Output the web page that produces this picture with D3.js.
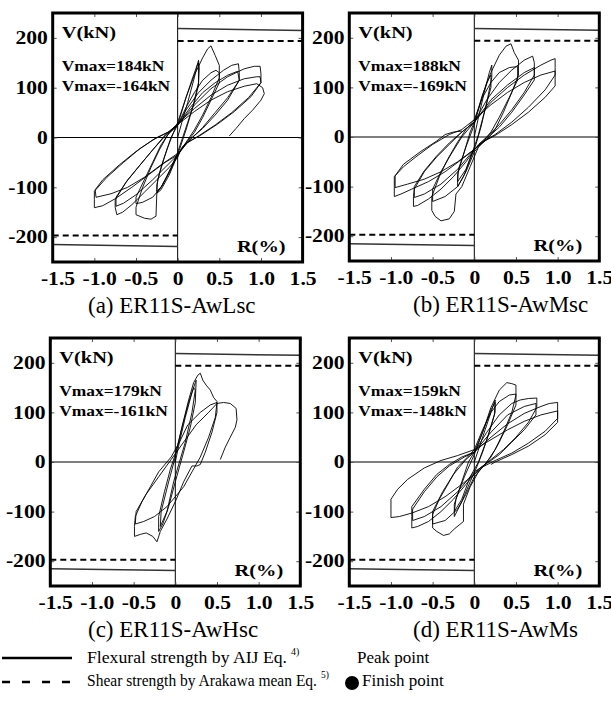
<!DOCTYPE html>
<html>
<head>
<meta charset="utf-8">
<script src="https://cdn.jsdelivr.net/npm/d3@7"></script>
<style>
body { margin: 0; background: #fff; }
svg { display: block; }
svg text { font-family: 'Liberation Serif', Tinos, 'Times New Roman', Times, serif; }
</style>
</head>
<body>
<svg id="chart" width="611" height="704"></svg>
<script>
// ---- data ----
const rTicks = [-1.5, -1.0, -0.5, 0, 0.5, 1.0, 1.5];
const vTicks = [200, 100, 0, -100, -200];
const captions = ["(a) ER11S-AwLsc", "(b) ER11S-AwMsc", "(c) ER11S-AwHsc", "(d) ER11S-AwMs"];
const vmaxPos = [184, 188, 179, 159];
const vmaxNeg = [-164, -169, -161, -148];
const flexural = [219, 215];   // V at R=0 and at R=1.5 (mirrored on the negative side)
const shear = [194, -197];     // Arakawa mean shear strength, + and - side

// hysteresis loops, [R(%), V(kN)] in loading order
const loopA = [
  [0,0],[0.05,30],[0.12,70],[0.2,120],[0.25,155],[0.26,140],[0.25,105],[0.2,70],[0.12,30],[0.05,-5],[0,-30],
  [-0.08,-60],[-0.18,-95],[-0.25,-112],[-0.25,-95],[-0.2,-60],[-0.12,-20],[-0.05,10],[0,30],
  [0.08,70],[0.17,115],[0.24,148],[0.25,150],[0.25,110],[0.18,60],[0.1,15],[0.02,-25],
  [-0.1,-70],[-0.2,-100],[-0.25,-108],[-0.24,-85],[-0.16,-40],[-0.08,0],[0,25],
  [0.1,80],[0.2,125],[0.3,160],[0.36,178],[0.4,184],[0.45,165],[0.5,145],[0.5,120],[0.4,80],[0.3,45],[0.2,15],[0.1,-10],[0,-35],
  [-0.1,-75],[-0.2,-105],[-0.25,-112],[-0.26,-158],[-0.32,-164],[-0.4,-162],[-0.5,-155],[-0.5,-140],[-0.42,-100],[-0.32,-60],[-0.22,-25],[-0.12,5],[0,25],
  [0.1,60],[0.2,90],[0.3,115],[0.4,130],[0.46,135],[0.5,130],[0.5,110],[0.4,75],[0.3,40],[0.2,10],[0.08,-15],[0,-35],
  [-0.1,-70],[-0.2,-100],[-0.3,-120],[-0.42,-130],[-0.5,-133],[-0.5,-120],[-0.4,-85],[-0.3,-50],[-0.2,-15],[-0.1,10],[0,25],
  [0.1,55],[0.25,90],[0.4,115],[0.55,135],[0.65,145],[0.73,148],[0.74,130],[0.74,115],[0.6,80],[0.45,50],[0.3,20],[0.15,-5],[0.05,-20],[0,-40],
  [-0.1,-60],[-0.25,-85],[-0.4,-110],[-0.55,-135],[-0.66,-150],[-0.73,-155],[-0.75,-140],[-0.75,-125],[-0.62,-90],[-0.45,-55],[-0.3,-25],[-0.15,5],[0,25],
  [0.15,60],[0.3,90],[0.45,110],[0.6,125],[0.72,133],[0.74,115],[0.6,75],[0.45,45],[0.3,18],[0.15,-3],[0,-35],
  [-0.15,-60],[-0.3,-85],[-0.5,-115],[-0.65,-132],[-0.74,-138],[-0.74,-120],[-0.6,-85],[-0.45,-55],[-0.3,-25],[-0.15,3],[0,25],
  [0.2,65],[0.4,98],[0.6,122],[0.8,138],[0.92,143],[0.99,143],[1.0,128],[1.0,110],[0.85,80],[0.65,50],[0.45,25],[0.25,3],[0.1,-12],[0,-35],
  [-0.15,-50],[-0.35,-75],[-0.55,-100],[-0.75,-123],[-0.9,-137],[-1.0,-141],[-1.0,-125],[-1.0,-108],[-0.85,-80],[-0.65,-50],[-0.45,-22],[-0.25,0],[-0.1,12],[0,28],
  [0.2,58],[0.4,85],[0.6,105],[0.8,118],[0.95,122],[0.99,122],[1.0,110],[0.88,82],[0.68,52],[0.48,27],[0.28,5],[0.12,-10],[0,-32],
  [-0.2,-55],[-0.4,-80],[-0.6,-100],[-0.8,-113],[-0.98,-120],[-0.99,-105],[-0.9,-85],[-0.7,-55],[-0.5,-28],[-0.3,-5],[-0.12,10],[0,26],
  [0.2,52],[0.4,75],[0.6,92],[0.8,103],[0.95,108],[1.02,100],[1.04,88],[1.0,75],[0.9,55],[0.8,38],[0.7,18],[0.62,3]
];

const loopB = [
  [0,0],[0.05,40],[0.12,90],[0.18,130],[0.21,145],[0.21,120],[0.15,70],[0.08,20],[0.02,-15],
  [-0.05,-45],[-0.13,-80],[-0.2,-100],[-0.2,-75],[-0.12,-30],[-0.05,10],[0,30],
  [0.08,75],[0.15,110],[0.2,125],[0.2,100],[0.12,50],[0.05,5],[0,-20],
  [-0.1,-65],[-0.2,-90],[-0.19,-65],[-0.1,-20],[0,25],
  [0.1,85],[0.2,130],[0.3,165],[0.38,183],[0.44,188],[0.48,170],[0.53,155],[0.53,125],[0.45,90],[0.35,50],[0.25,15],[0.15,-5],[0.05,-20],
  [-0.05,-60],[-0.15,-100],[-0.22,-115],[-0.24,-150],[-0.3,-165],[-0.4,-169],[-0.47,-160],[-0.51,-148],[-0.51,-120],[-0.42,-80],[-0.32,-45],[-0.2,-10],[-0.1,15],[0,35],
  [0.1,80],[0.2,110],[0.3,130],[0.42,140],[0.52,142],[0.52,115],[0.42,80],[0.3,40],[0.2,10],[0.1,-10],[0,-30],
  [-0.1,-70],[-0.2,-100],[-0.35,-120],[-0.5,-130],[-0.5,-105],[-0.4,-70],[-0.28,-35],[-0.15,0],[0,30],
  [0.15,75],[0.3,110],[0.45,135],[0.6,155],[0.7,163],[0.72,150],[0.72,125],[0.6,90],[0.45,55],[0.3,25],[0.15,0],[0.05,-15],
  [-0.1,-50],[-0.25,-80],[-0.4,-105],[-0.55,-125],[-0.68,-138],[-0.73,-140],[-0.73,-120],[-0.72,-105],[-0.6,-70],[-0.45,-40],[-0.3,-15],[-0.15,10],[0,30],
  [0.2,75],[0.4,105],[0.6,130],[0.72,140],[0.72,115],[0.6,85],[0.45,50],[0.3,20],[0.15,-3],[0,-25],
  [-0.2,-65],[-0.4,-95],[-0.6,-115],[-0.72,-122],[-0.72,-100],[-0.6,-68],[-0.45,-38],[-0.3,-12],[-0.15,10],[0,30],
  [0.2,70],[0.4,100],[0.6,125],[0.8,145],[0.92,155],[0.97,158],[0.97,140],[0.97,125],[0.85,95],[0.65,60],[0.45,30],[0.25,5],[0.1,-10],[0,-25],
  [-0.15,-45],[-0.35,-70],[-0.55,-90],[-0.75,-105],[-0.88,-115],[-0.96,-120],[-0.96,-100],[-0.96,-80],[-0.85,-60],[-0.7,-40],[-0.5,-15],[-0.3,5],[-0.15,15],[0,35],
  [0.2,65],[0.4,90],[0.6,110],[0.8,125],[0.97,133],[0.97,115],[0.97,103],[0.85,80],[0.65,50],[0.45,25],[0.25,3],[0.1,-10],[0,-25],
  [-0.2,-50],[-0.4,-70],[-0.6,-85],[-0.8,-95],[-0.95,-102],[-0.95,-78],[-0.85,-55],[-0.65,-30],[-0.45,-8],[-0.35,5],[-0.25,10],[-0.15,12]
];

const loopC = [
  [0,0],[0.05,40],[0.12,90],[0.2,140],[0.24,160],[0.25,165],[0.24,120],[0.18,70],[0.1,20],[0.05,-10],
  [0,-40],[-0.08,-90],[-0.15,-125],[-0.2,-140],[-0.2,-110],[-0.13,-60],[-0.06,-15],[0,15],
  [0.08,70],[0.16,120],[0.22,150],[0.24,145],[0.2,100],[0.12,40],[0.05,0],
  [-0.02,-40],[-0.1,-100],[-0.18,-130],[-0.17,-100],[-0.08,-40],[0,10],
  [0.08,70],[0.16,125],[0.22,160],[0.27,175],[0.3,179],[0.33,165],[0.37,155],[0.42,145],[0.46,130],[0.5,122],[0.5,100],[0.44,60],[0.36,20],[0.3,-5],[0.26,-8],[0.2,-8],
  [0.1,-40],[0,-80],[-0.1,-115],[-0.18,-140],[-0.22,-161],[-0.27,-150],[-0.35,-143],[-0.42,-146],[-0.49,-150],[-0.49,-130],[-0.48,-110],[-0.4,-80],[-0.3,-50],[-0.2,-20],[-0.1,0],[-0.05,10],
  [0.05,40],[0.15,75],[0.3,100],[0.42,115],[0.5,120],[0.48,90],[0.4,50],[0.3,10],[0.2,-20],[0.1,-50],
  [0,-70],[-0.1,-90],[-0.25,-110],[-0.38,-120],[-0.48,-125],[-0.47,-100],[-0.35,-65],[-0.2,-30],[-0.05,5],
  [0.1,40],[0.25,75],[0.4,100],[0.5,118],[0.58,120],[0.66,118],[0.73,108],[0.74,85],[0.72,70],[0.66,50],[0.6,30],[0.54,5]
];

const loopD = [
  [0,0],[0.1,50],[0.2,100],[0.25,125],[0.25,100],[0.18,60],[0.1,20],[0.03,-10],
  [-0.05,-40],[-0.15,-80],[-0.24,-110],[-0.24,-85],[-0.15,-40],[-0.07,0],[0,20],
  [0.1,60],[0.2,105],[0.25,120],[0.24,95],[0.15,45],[0.05,0],
  [-0.05,-30],[-0.15,-75],[-0.24,-100],[-0.22,-75],[-0.12,-30],[0,15],
  [0.1,60],[0.2,110],[0.3,145],[0.39,160],[0.45,158],[0.5,155],[0.5,135],[0.45,100],[0.35,60],[0.25,25],[0.15,0],[0.05,-20],
  [-0.05,-50],[-0.13,-85],[-0.13,-120],[-0.24,-135],[-0.3,-145],[-0.37,-148],[-0.45,-140],[-0.5,-133],[-0.5,-106],[-0.42,-75],[-0.3,-40],[-0.2,-10],[-0.08,10],[0,25],
  [0.1,65],[0.2,100],[0.3,122],[0.42,135],[0.5,137],[0.5,115],[0.4,75],[0.3,40],[0.2,10],[0.1,-10],[0,-30],
  [-0.1,-65],[-0.2,-95],[-0.35,-118],[-0.5,-125],[-0.5,-100],[-0.38,-60],[-0.25,-25],[-0.1,5],[0,20],
  [0.15,60],[0.3,95],[0.45,118],[0.55,125],[0.65,128],[0.75,129],[0.75,110],[0.65,80],[0.5,50],[0.35,25],[0.2,5],[0.05,-15],
  [-0.1,-45],[-0.25,-75],[-0.4,-100],[-0.55,-120],[-0.68,-130],[-0.75,-133],[-0.75,-110],[-0.75,-90],[-0.6,-55],[-0.45,-25],[-0.3,-5],[-0.15,10],[0,20],
  [0.2,60],[0.4,95],[0.6,112],[0.74,118],[0.74,95],[0.6,65],[0.45,40],[0.3,15],[0.15,-3],[0,-20],
  [-0.2,-60],[-0.4,-90],[-0.6,-110],[-0.74,-118],[-0.74,-95],[-0.6,-60],[-0.45,-30],[-0.3,-8],[-0.12,10],[0,20],
  [0.2,50],[0.4,77],[0.6,98],[0.8,112],[0.9,118],[1.0,120],[1.0,100],[1.0,88],[0.85,62],[0.65,38],[0.45,18],[0.25,3],[0.1,-10],[0,-25],
  [-0.15,-45],[-0.35,-70],[-0.55,-90],[-0.75,-103],[-0.9,-110],[-1.0,-112],[-1.0,-95],[-1.0,-75],[-0.92,-55],[-0.8,-35],[-0.6,-12],[-0.4,3],[-0.2,13],[0,25],
  [0.2,45],[0.4,65],[0.6,82],[0.8,95],[1.0,103],[1.0,80],[0.85,55],[0.65,32],[0.45,15],[0.25,0],[0.2,-5]
];

const loops = [loopA, loopB, loopC, loopD];

// ---- layout ----
const SX = 1.2; // bold labels in the picture are drawn a little wide
const panels = [
  { x0: 52.7, x1: 302.6, y0: 13, y1: 262, cap: 88 },
  { x0: 349.3, x1: 599.3, y0: 13, y1: 261, cap: 413 },
  { x0: 50.3, x1: 300.3, y0: 338, y1: 586, cap: 88 },
  { x0: 349.3, x1: 599.3, y0: 338, y1: 586, cap: 413 }
];

const svg = d3.select("#chart");
const fmt = d => d === 0 ? "0" : d.toFixed(Math.abs(d) >= 100 ? 0 : 1);

function boldText(g, x, y, str, anchor) {
  return g.append("text")
    .attr("transform", `translate(${x},${y}) scale(${SX},1)`)
    .attr("text-anchor", anchor || "start")
    .style("font-weight", "bold")
    .style("font-size", "16px")
    .text(str);
}

panels.forEach((p, i) => {
  const x = d3.scaleLinear().domain([-1.5, 1.5]).range([p.x0, p.x1]);
  const y = d3.scaleLinear().domain([-250, 250]).range([p.y1, p.y0]);
  const g = svg.append("g");

  // zero axes
  g.append("line")
    .attr("x1", x(-1.5)).attr("x2", x(1.5))
    .attr("y1", y(0)).attr("y2", y(0))
    .attr("stroke", "#000").attr("stroke-width", 1);
  g.append("line")
    .attr("x1", x(0)).attr("x2", x(0))
    .attr("y1", y(-250)).attr("y2", y(250))
    .attr("stroke", "#000").attr("stroke-width", 1);

  // flexural strength (solid) and shear strength (dashed)
  g.append("line")
    .attr("x1", x(0)).attr("y1", y(flexural[0]))
    .attr("x2", x(1.5)).attr("y2", y(flexural[1]))
    .attr("stroke", "#333").attr("stroke-width", 1.5);
  g.append("line")
    .attr("x1", x(-1.5)).attr("y1", y(-flexural[1]))
    .attr("x2", x(0)).attr("y2", y(-flexural[0]))
    .attr("stroke", "#333").attr("stroke-width", 1.5);
  g.append("line")
    .attr("x1", x(0)).attr("x2", x(1.5))
    .attr("y1", y(shear[0])).attr("y2", y(shear[0]))
    .attr("stroke", "#000").attr("stroke-width", 2)
    .attr("stroke-dasharray", "6,4");
  g.append("line")
    .attr("x1", x(-1.5)).attr("x2", x(0))
    .attr("y1", y(shear[1])).attr("y2", y(shear[1]))
    .attr("stroke", "#000").attr("stroke-width", 2)
    .attr("stroke-dasharray", "6,4");

  // the loops
  g.append("path")
    .datum(loops[i])
    .attr("d", d3.line().x(d => x(d[0])).y(d => y(d[1])))
    .attr("fill", "none")
    .attr("stroke", "#000")
    .attr("stroke-width", 0.9)
    .attr("stroke-linejoin", "round");

  // axes: inward ticks on all four sides, labels bottom and left
  const bottom = g.append("g")
    .attr("transform", `translate(0,${p.y1})`)
    .call(d3.axisBottom(x).tickValues(rTicks).tickSizeInner(-4).tickSizeOuter(0).tickPadding(10).tickFormat(fmt));
  const left = g.append("g")
    .attr("transform", `translate(${p.x0},0)`)
    .call(d3.axisLeft(y).tickValues(vTicks).tickSizeInner(-4).tickSizeOuter(0).tickPadding(4).tickFormat(fmt));
  g.append("g")
    .attr("transform", `translate(0,${p.y0})`)
    .call(d3.axisTop(x).tickValues(rTicks).tickSizeInner(-4).tickSizeOuter(0).tickFormat(""));
  g.append("g")
    .attr("transform", `translate(${p.x1},0)`)
    .call(d3.axisRight(y).tickValues(vTicks).tickSizeInner(-4).tickSizeOuter(0).tickFormat(""));

  g.selectAll(".domain").remove();
  g.selectAll(".tick line").attr("stroke", "#555");
  [bottom, left].forEach(ax => {
    ax.attr("font-family", null);
    ax.selectAll("text")
      .attr("transform", `scale(${SX},1)`)
      .attr("fill", "#000")
      .style("font-weight", "bold")
      .style("font-size", "18px");
  });
  bottom.selectAll("text").attr("dx", d => d < 0 ? 4 : 0);

  // frame
  g.append("rect")
    .attr("x", p.x0).attr("y", p.y0)
    .attr("width", p.x1 - p.x0).attr("height", p.y1 - p.y0)
    .attr("fill", "none").attr("stroke", "#000").attr("stroke-width", 3);

  // in-plot labels
  boldText(g, p.x0 + 9, p.y0 + 25, "V(kN)").style("font-size", "17px");
  boldText(g, p.x0 + 9, p.y0 + 58, `Vmax=${vmaxPos[i]}kN`).style("font-size", "14.5px");
  boldText(g, p.x0 + 9, p.y0 + 78, `Vmax=${vmaxNeg[i]}kN`).style("font-size", "14.5px");
  boldText(g, p.x1 - 17, p.y1 - 10, "R(%)", "end").style("font-size", "17px");

  // caption
  g.append("text")
    .attr("x", p.cap)
    .attr("y", p.y1 + 51)
    .style("font-size", "23px")
    .text(captions[i]);
});

// ---- legend ----
const lg = svg.append("g").style("font-size", "17px");
lg.append("line").attr("x1", 2).attr("x2", 72).attr("y1", 658).attr("y2", 658)
  .attr("stroke", "#000").attr("stroke-width", 2.5);
lg.append("line").attr("x1", 2).attr("x2", 72).attr("y1", 682).attr("y2", 682)
  .attr("stroke", "#000").attr("stroke-width", 2.5).attr("stroke-dasharray", "8,12");

const t1 = lg.append("text").attr("x", 87).attr("y", 663);
t1.append("tspan").attr("textLength", 200).attr("lengthAdjust", "spacingAndGlyphs")
  .text("Flexural strength by AIJ Eq.");
t1.append("tspan").attr("dx", 4).attr("dy", -8).style("font-size", "10px").text("4)");
const t2 = lg.append("text").attr("x", 87).attr("y", 686);
t2.append("tspan").attr("textLength", 230).attr("lengthAdjust", "spacingAndGlyphs")
  .text("Shear strength by Arakawa mean Eq.");
t2.append("tspan").attr("dx", 4).attr("dy", -8).style("font-size", "9.5px").text("5)");

lg.append("text").attr("x", 357).attr("y", 663).text("Peak point");
lg.append("circle").attr("cx", 352).attr("cy", 683).attr("r", 7).attr("fill", "#000");
lg.append("text").attr("x", 362).attr("y", 686).text("Finish point");
</script>
</body>
</html>
